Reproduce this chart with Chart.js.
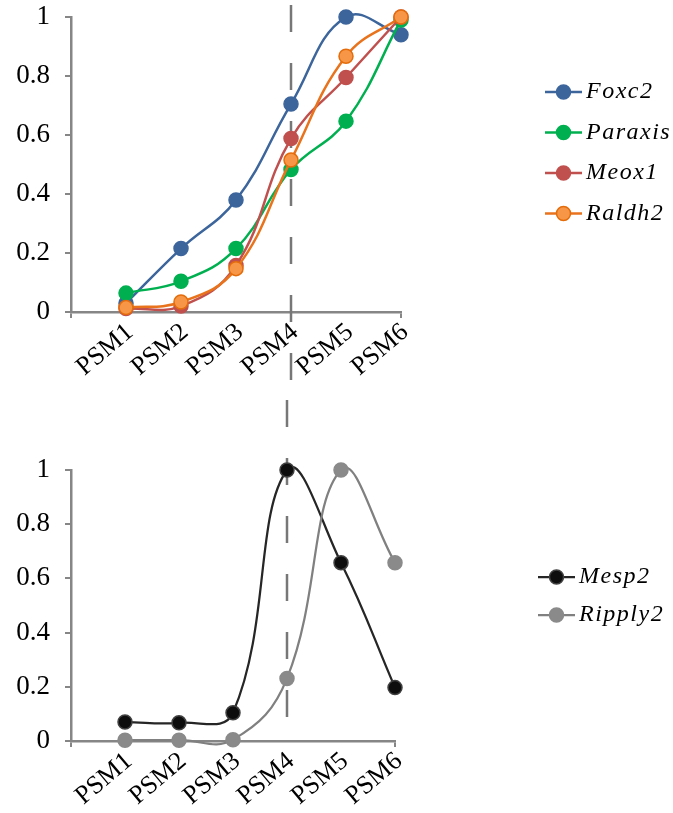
<!DOCTYPE html>
<html>
<head>
<meta charset="utf-8">
<script src="https://cdn.jsdelivr.net/npm/chart.js@4.4.0/dist/chart.umd.min.js"></script>
<style>
  body { margin: 0; background: #fff; }
  .box { position: relative; width: 673px; }
</style>
</head>
<body>
<div class="box" style="height:400px"><canvas id="chart1"></canvas></div>
<div class="box" style="height:413px"><canvas id="chart2"></canvas></div>
<script>
// categories and the stage marked by the dashed line
var stages = ['PSM1', 'PSM2', 'PSM3', 'PSM4', 'PSM5', 'PSM6'];
var boundaryStage = 'PSM4';
var yTicks = [0, 0.2, 0.4, 0.6, 0.8, 1];

// top panel
var foxc2   = [0.03, 0.215, 0.38, 0.705, 1.0, 0.94];
var paraxis = [0.064, 0.104, 0.215, 0.483, 0.647, 0.99];
var meox1   = [0.012, 0.02, 0.158, 0.588, 0.795, 1.0];
var raldh2  = [0.015, 0.034, 0.147, 0.515, 0.867, 1.0];

// bottom panel
var mesp2   = [0.07, 0.067, 0.104, 1.0, 0.658, 0.197];
var ripply2 = [0.003, 0.003, 0.005, 0.231, 1.0, 0.658];

var serif = '"Liberation Serif", "Times New Roman", serif';
var axisGray = '#868686';

function points(values) {
  return values.map(function(v, i) { return { x: i + 1, y: v }; });
}

function series(label, values, line, fill, border, order, width) {
  return {
    label: label,
    data: points(values),
    borderColor: line,
    borderWidth: width,
    pointBackgroundColor: fill,
    pointBorderColor: border,
    pointBorderWidth: 1.5,
    pointRadius: 7,
    pointHoverRadius: 7,
    tension: 0.42,
    clip: false,
    order: order
  };
}

// dashed line at the boundary stage
var boundaryLine = {
  id: 'boundaryLine',
  beforeDatasetsDraw: function(chart, args, opts) {
    var ctx = chart.ctx;
    var x = chart.scales.x.getPixelForValue(stages.indexOf(boundaryStage) + 1);
    var y0 = opts.above == null ? 0 : chart.chartArea.top - opts.above;
    var y1 = opts.below == null ? chart.height : chart.chartArea.bottom + opts.below;
    ctx.save();
    ctx.strokeStyle = '#777';
    ctx.lineWidth = 2.5;
    ctx.setLineDash([27, 31]);
    ctx.beginPath();
    ctx.moveTo(x, y0);
    ctx.lineTo(x, y1);
    ctx.stroke();
    ctx.restore();
  }
};

// legend: short line with marker, italic gene name
var lineLegend = {
  id: 'lineLegend',
  afterDraw: function(chart, args, opts) {
    var ctx = chart.ctx;
    ctx.save();
    ctx.font = 'italic 24px ' + serif;
    ctx.letterSpacing = '1.5px';
    ctx.textBaseline = 'middle';
    chart.data.datasets.forEach(function(ds, i) {
      var x = opts.left;
      var y = opts.top + i * opts.spacing;
      ctx.strokeStyle = ds.borderColor;
      ctx.lineWidth = ds.borderWidth;
      ctx.beginPath();
      ctx.moveTo(x, y);
      ctx.lineTo(x + opts.lineLength, y);
      ctx.stroke();
      ctx.beginPath();
      ctx.arc(x + opts.lineLength / 2, y, ds.pointRadius, 0, Math.PI * 2);
      ctx.fillStyle = ds.pointBackgroundColor;
      ctx.fill();
      ctx.lineWidth = ds.pointBorderWidth;
      ctx.strokeStyle = ds.pointBorderColor;
      ctx.stroke();
      ctx.fillStyle = '#000';
      ctx.fillText(ds.label, x + opts.lineLength + 4, y);
    });
    ctx.restore();
  }
};

function noPadding(s) {
  s.paddingTop = 0;
  s.paddingBottom = 0;
  s.paddingLeft = 0;
  s.paddingRight = 0;
}

function makeOptions(pad, xHeight, legendOpts, lineOpts) {
  return {
    responsive: true,
    maintainAspectRatio: false,
    animation: false,
    layout: { padding: pad },
    elements: { line: { capBezierPoints: false } },
    plugins: {
      legend: { display: false },
      tooltip: { enabled: false },
      lineLegend: legendOpts,
      boundaryLine: lineOpts
    },
    scales: {
      x: {
        type: 'linear',
        min: 0,
        max: stages.length,
        afterBuildTicks: function(s) {
          s.ticks = [{ value: 0 }].concat(stages.map(function(n, i) { return { value: i + 1 }; }));
        },
        afterFit: function(s) { s.height = xHeight; noPadding(s); },
        border: { color: axisGray, width: 2.5 },
        grid: {
          drawOnChartArea: false,
          tickLength: 6,
          lineWidth: 2,
          color: function(c) {
            return (c.index === 0 || c.index === stages.length) ? axisGray : 'rgba(0,0,0,0)';
          }
        },
        ticks: {
          autoSkip: false,
          minRotation: 40,
          maxRotation: 40,
          padding: -1,
          labelOffset: 4,
          color: '#000',
          font: { family: serif, size: 26 },
          callback: function(v) { return stages[v - 1] || ''; }
        }
      },
      y: {
        min: 0,
        max: 1,
        afterBuildTicks: function(s) {
          s.ticks = yTicks.map(function(v) { return { value: v }; });
        },
        afterFit: function(s) { s.width = 71; noPadding(s); },
        border: { color: axisGray, width: 2.5 },
        grid: { drawOnChartArea: false, color: axisGray, lineWidth: 2, tickLength: 6 },
        ticks: {
          padding: 15,
          color: '#000',
          font: { family: serif, size: 27 },
          callback: function(v) { return String(v); }
        }
      }
    }
  };
}

document.fonts.load('26px "Liberation Serif"').then(function() {
  return document.fonts.load('italic 24px "Liberation Serif"');
}).catch(function() {}).then(function() {
  new Chart(document.getElementById('chart1'), {
    type: 'line',
    data: {
      datasets: [
        series('Foxc2', foxc2, '#3C659C', '#3C659C', '#3C659C', 4, 2.5),
        series('Paraxis', paraxis, '#00B050', '#00B050', '#00B050', 3, 2.5),
        series('Meox1', meox1, '#C0504D', '#C0504D', '#C0504D', 2, 2.5),
        series('Raldh2', raldh2, '#E8731C', '#F79646', '#E46C0A', 1, 2.5)
      ]
    },
    options: makeOptions({ top: 17, right: 272, left: 0, bottom: 0 }, 88,
      { left: 545, top: 92, spacing: 40.5, lineLength: 37 },
      { above: 12, below: null }),
    plugins: [boundaryLine, lineLegend]
  });

  new Chart(document.getElementById('chart2'), {
    type: 'line',
    data: {
      datasets: [
        series('Mesp2', mesp2, '#262626', '#0D0D0D', '#404040', 2, 2.25),
        series('Ripply2', ripply2, '#808080', '#8A8A8A', '#8A8A8A', 1, 2.25)
      ]
    },
    options: makeOptions({ top: 70, right: 278, left: 0, bottom: 0 }, 72,
      { left: 538, top: 177, spacing: 38, lineLength: 37 },
      { above: null, below: 7 }),
    plugins: [boundaryLine, lineLegend]
  });
});
</script>
</body>
</html>
